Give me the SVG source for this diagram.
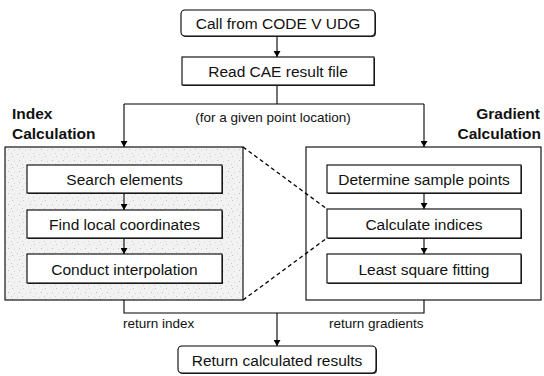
<svg xmlns="http://www.w3.org/2000/svg" width="544" height="376" viewBox="0 0 544 376">
  <defs>
    <marker id="arrow" markerUnits="userSpaceOnUse" markerWidth="7" markerHeight="7" refX="6" refY="3.5" orient="auto">
      <path d="M0,0 L6,3.5 L0,7 z" fill="#000"/>
    </marker>
    <!-- light stipple used for the index-calculation panel -->
    <pattern id="stipple" width="11" height="11" patternUnits="userSpaceOnUse">
      <rect width="11" height="11" fill="#f2f2f2"/>
      <rect x="1" y="2" width="1" height="1" fill="#c4c4c4"/>
      <rect x="6" y="0" width="1" height="1" fill="#d2d2d2"/>
      <rect x="8" y="6" width="1" height="1" fill="#bebebe"/>
      <rect x="3" y="7" width="1" height="1" fill="#d6d6d6"/>
      <rect x="0" y="10" width="1" height="1" fill="#cacaca"/>
      <rect x="9" y="3" width="1" height="1" fill="#dadada"/>
    </pattern>
    <style>
      .box { fill: #fff; stroke: #000; stroke-width: 1.1; }
      .shadow { fill: #333; }
      .panel { stroke: #000; stroke-width: 1.1; }
      .label { font-family: "Liberation Sans", Arial, sans-serif; font-size: 15.5px; fill: #111; text-anchor: middle; }
      .small { font-family: "Liberation Sans", Arial, sans-serif; font-size: 13.5px; fill: #111; }
      .title { font-family: "Liberation Sans", Arial, sans-serif; font-size: 15.5px; font-weight: bold; fill: #111; }
      .line { fill: none; stroke: #000; stroke-width: 1.1; }
      .dash { fill: none; stroke: #000; stroke-width: 1.3; stroke-dasharray: 4 3; }
    </style>
  </defs>

  <rect width="544" height="376" fill="#fff"/>

  <!-- panels -->
  <g id="index-panel">
    <rect class="panel" x="5" y="147" width="238" height="153" fill="url(#stipple)"/>
    <text class="title" x="12" y="119">Index</text>
    <text class="title" x="12" y="139">Calculation</text>
  </g>
  <g id="gradient-panel">
    <rect class="panel" x="306" y="147" width="235" height="153" fill="#fff"/>
    <text class="title" x="540" y="119" text-anchor="end">Gradient</text>
    <text class="title" x="541" y="139" text-anchor="end">Calculation</text>
  </g>

  <!-- connectors -->
  <g id="connectors">
    <line class="line" x1="277" y1="36" x2="277" y2="57" marker-end="url(#arrow)"/>
    <polyline class="line" points="277,85 277,104"/>
    <polyline class="line" points="124,104 424,104"/>
    <line class="line" x1="124" y1="104" x2="124" y2="147" marker-end="url(#arrow)"/>
    <line class="line" x1="424" y1="104" x2="424" y2="147" marker-end="url(#arrow)"/>
    <line class="line" x1="124" y1="193" x2="124" y2="210" marker-end="url(#arrow)"/>
    <line class="line" x1="124" y1="238" x2="124" y2="254" marker-end="url(#arrow)"/>
    <line class="line" x1="424" y1="193" x2="424" y2="209" marker-end="url(#arrow)"/>
    <line class="line" x1="424" y1="238" x2="424" y2="254" marker-end="url(#arrow)"/>
    <polyline class="line" points="124,300 124,313 424,313 424,300"/>
    <line class="line" x1="277" y1="313" x2="277" y2="346" marker-end="url(#arrow)"/>
    <line class="dash" x1="243" y1="147" x2="327" y2="209"/>
    <line class="dash" x1="243" y1="300" x2="327" y2="238"/>
    <text class="small" x="273" y="122" text-anchor="middle">(for a given point location)</text>
    <text class="small" x="123" y="328">return index</text>
    <text class="small" x="329" y="328">return gradients</text>
  </g>

  <!-- nodes -->
  <g id="call-from-codev">
    <rect class="shadow" x="182" y="11" width="194" height="26" rx="4"/>
    <rect class="box" x="181" y="10" width="194" height="26" rx="4"/>
    <text class="label" x="278" y="28.5">Call from CODE V UDG</text>
  </g>
  <g id="read-cae">
    <rect class="shadow" x="183" y="58" width="192" height="28"/>
    <rect class="box" x="182" y="57" width="192" height="28"/>
    <text class="label" x="278" y="76.5">Read CAE result file</text>
  </g>

  <g id="search-elements">
    <rect class="shadow" x="28" y="166" width="195" height="28"/>
    <rect class="box" x="27" y="165" width="195" height="28"/>
    <text class="label" x="124.5" y="185">Search elements</text>
  </g>
  <g id="find-local-coordinates">
    <rect class="shadow" x="28" y="211" width="195" height="28"/>
    <rect class="box" x="27" y="210" width="195" height="28"/>
    <text class="label" x="124.5" y="230">Find local coordinates</text>
  </g>
  <g id="conduct-interpolation">
    <rect class="shadow" x="28" y="255" width="195" height="29"/>
    <rect class="box" x="27" y="254" width="195" height="29"/>
    <text class="label" x="124.5" y="274.5">Conduct interpolation</text>
  </g>

  <g id="determine-sample-points">
    <rect class="shadow" x="328" y="166" width="194" height="28"/>
    <rect class="box" x="327" y="165" width="194" height="28"/>
    <text class="label" x="424" y="185">Determine sample points</text>
  </g>
  <g id="calculate-indices">
    <rect class="shadow" x="328" y="210" width="194" height="29"/>
    <rect class="box" x="327" y="209" width="194" height="29"/>
    <text class="label" x="424" y="229.5">Calculate indices</text>
  </g>
  <g id="least-square-fitting">
    <rect class="shadow" x="328" y="255" width="194" height="29"/>
    <rect class="box" x="327" y="254" width="194" height="29"/>
    <text class="label" x="424" y="274.5">Least square fitting</text>
  </g>

  <g id="return-results">
    <rect class="shadow" x="179" y="347" width="198" height="27" rx="4"/>
    <rect class="box" x="178" y="346" width="198" height="27" rx="4"/>
    <text class="label" x="277" y="365.5">Return calculated results</text>
  </g>
</svg>
